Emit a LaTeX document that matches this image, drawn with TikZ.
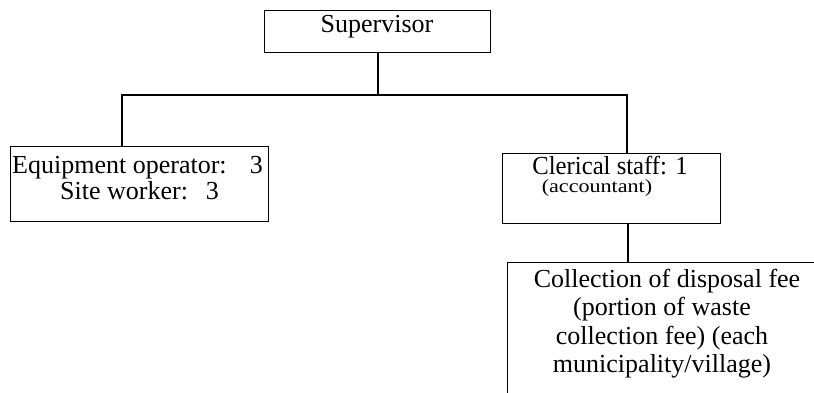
\documentclass[tikz,border=0pt]{standalone}
\usepackage{fontspec}
\setmainfont{Liberation Serif}
\usetikzlibrary{positioning}
\begin{document}
\begin{tikzpicture}[x=1pt, y=-1pt,
  box/.style={draw=black, line width=1.4pt, inner sep=0pt, anchor=north west},
  link/.style={draw=black, line width=1.4pt},
  txt/.style={inner sep=0pt, font=\fontsize{26}{28}\selectfont}]
\useasboundingbox (0,0) rectangle (814,393);
\clip (0,0) rectangle (814,393);

% boxes
\node[box, minimum width=226pt, minimum height=42pt] (sup) at (264,10) {};
\node[box, minimum width=258pt, minimum height=75pt] (ops) at (10,146) {};
\node[box, minimum width=218pt, minimum height=70pt] (clerk) at (502,153) {};
\node[box, minimum width=320pt, minimum height=150pt] (fee) at (507,262) {};

% texts
\node[txt, anchor=base] (suptext) at (377,33) {Supervisor};
\node[txt, anchor=base west] (opsa) at (12,173) {Equipment operator:};
\node[txt, anchor=base east] (opsan) at (263,173) {3};
\node[txt, anchor=base west] (opsb) at (60,200) {Site worker:};
\node[txt, anchor=base east] (opsbn) at (219,200) {3};
\node[txt, anchor=base] (clerka) at (610,175) {\scalebox{0.95}[1]{Clerical staff: 1}};
\node[txt, anchor=base] (clerkb) at (597,192) {\scalebox{0.85}[0.72]{(accountant)}};
\node[txt, anchor=base] (feea) at (667,287) {Collection of disposal fee};
\node[txt, anchor=base] (feeb) at (662,315) {(portion of waste};
\node[txt, anchor=base] (feec) at (662,344) {collection fee) (each};
\node[txt, anchor=base] (feed) at (662,372) {municipality/village)};

% attachment points
\coordinate (bus) at (378,95);
\coordinate (opstop) at (122,146);
\coordinate (clerktop) at (627,153);
\coordinate (clerkbot) at (628,223);
\coordinate (feetop) at (628,262);

% connectors
\draw[link] (sup.south -| bus) -- (bus);
\draw[link] (bus) -| (opstop);
\draw[link] (bus) -| (clerktop);
\draw[link] (clerkbot) -- (feetop);
\end{tikzpicture}
\end{document}
